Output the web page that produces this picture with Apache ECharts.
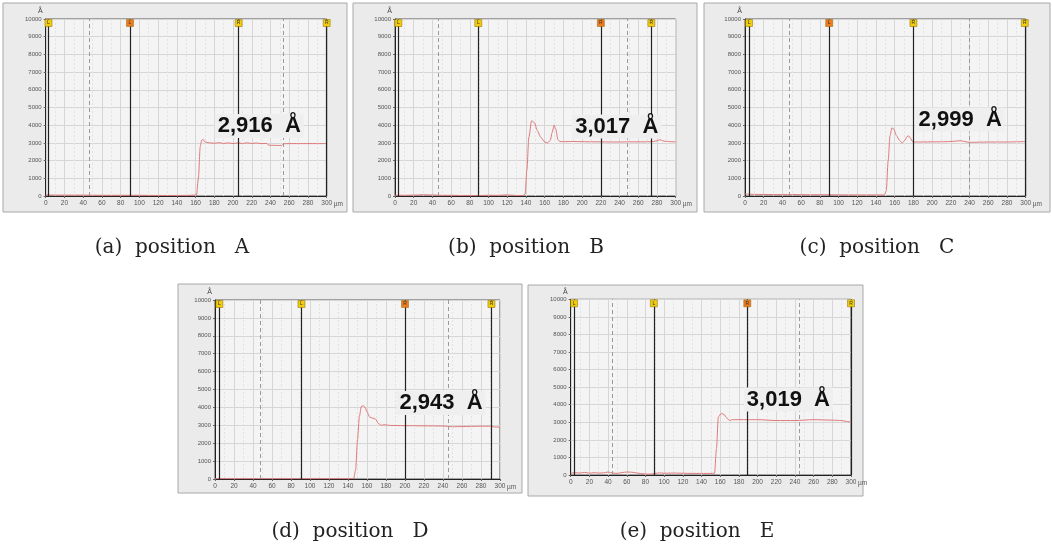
<!DOCTYPE html>
<html><head><meta charset="utf-8">
<script src="https://cdn.jsdelivr.net/npm/echarts@6/dist/echarts.min.js"></script>
<style>html,body{margin:0;padding:0;background:#fff}#c{width:1052px;height:547px}</style>
</head><body><div id="c"></div>
<script>
// ---- data (x in µm, thickness in Å) ----
const xA = [0,20,40,60,80,100,120,140,155,161,163,165,166.5,168,170,175,180,185,190,195,200,205,210,215,220,225,230,236,238,245,252,254,260,270,280,290,300];
const yA = [60,50,50,40,40,40,30,30,40,60,1000,2800,3150,3200,3050,3000,2980,3010,2970,3000,2960,3000,2970,3000,2970,2990,2960,2970,2870,2860,2850,2950,2960,2960,2960,2960,2960];

const xB = [0,10,20,30,40,50,60,70,80,90,100,110,120,130,137,139,141,143,146,149,152,156,160,163,166,168,170,172,174,176,180,190,200,210,220,230,240,250,260,270,276,280,283,286,290,300];
const yB = [40,40,50,70,60,40,40,30,30,30,40,40,60,30,30,100,1500,3300,4250,4150,3700,3300,3050,3000,3150,3600,4000,3750,3200,3080,3070,3080,3070,3060,3060,3050,3050,3060,3060,3060,3080,3120,3180,3120,3080,3060];

const xC = [0,10,30,50,70,90,110,130,149,151,153,155,157,159,162,165,168,171,173,175,177,179,181,190,200,210,220,230,240,250,260,270,280,290,300];
const yC = [120,90,80,80,70,70,60,60,60,300,2000,3400,3850,3780,3400,3150,3000,3150,3350,3400,3250,3080,3050,3050,3060,3060,3080,3120,3030,3040,3050,3050,3050,3060,3080];

const xD = [0,20,40,60,80,100,120,140,146,148,150,152,154,156,158,160,163,166,169,172,175,178,185,200,220,240,250,260,280,290,295,300];
const yD = [20,20,20,20,20,20,20,20,30,500,2200,3500,4050,4100,4000,3750,3450,3400,3350,3100,3000,3030,2990,2980,2970,2960,2920,2930,2950,2950,2900,2900];

const xE = [0,5,10,15,20,25,30,35,40,45,50,55,60,65,70,75,80,85,90,95,100,110,120,130,140,150,154,156,158,161,164,167,170,173,176,180,190,200,220,240,260,280,290,295,300];
const yE = [100,130,110,150,100,130,110,120,170,110,90,140,170,160,120,80,60,50,90,120,100,110,100,90,90,90,100,1500,3300,3500,3450,3250,3100,3150,3150,3150,3150,3150,3100,3100,3150,3120,3100,3050,3000];

// cursor positions (µm), index of the active (orange) cursor, dashed guide lines
const cursorsA = [3,90,206,300],   activeA = 1, dashedA = [47,254];
const cursorsB = [3.6,89,220,274], activeB = 2, dashedB = [46,248];
const cursorsC = [4.3,90,180,299], activeC = 1, dashedC = [47,240];
const cursorsD = [4.6,91,200,291], activeD = 2, dashedD = [48,246];
const cursorsE = [3.6,89,189,300], activeE = 2, dashedE = [45,245];

// step-height readings and where they are written (µm, Å)
const valueA = '2,916  Å', valueAtA = [228,3955];
const valueB = '3,017  Å', valueAtB = [237,3930];
const valueC = '2,999  Å', valueAtC = [230,4320];
const valueD = '2,943  Å', valueAtD = [238,4250];
const valueE = '3,019  Å', valueAtE = [233,4300];

const captions = ['(a)  position   A','(b)  position   B','(c)  position   C','(d)  position   D','(e)  position   E'];
const xTicks = {interval:20, min:0, max:300, unit:'µm'};
const yTicks = {interval:1000, min:0, max:10000, unit:'Å'};

// ---- layout ----
const panels = [
  {x:xA,y:yA,cur:cursorsA,act:activeA,dash:dashedA,txt:valueA,at:valueAtA,cap:captions[0],
   grid:{left:45.7,top:19,width:281,height:177}, box:[3,3,344,209], capPos:[172,248]},
  {x:xB,y:yB,cur:cursorsB,act:activeB,dash:dashedB,txt:valueB,at:valueAtB,cap:captions[1],
   grid:{left:395,top:19,width:280.7,height:177}, box:[353,3,344,209], capPos:[526,248]},
  {x:xC,y:yC,cur:cursorsC,act:activeC,dash:dashedC,txt:valueC,at:valueAtC,cap:captions[2],
   grid:{left:745,top:19,width:280.7,height:177}, box:[704,3,346,209], capPos:[877,248]},
  {x:xD,y:yD,cur:cursorsD,act:activeD,dash:dashedD,txt:valueD,at:valueAtD,cap:captions[3],
   grid:{left:215,top:300,width:285,height:179}, box:[178,284,344,209], capPos:[350,532]},
  {x:xE,y:yE,cur:cursorsE,act:activeE,dash:dashedE,txt:valueE,at:valueAtE,cap:captions[4],
   grid:{left:570.7,top:299.3,width:280.3,height:175.7}, box:[528,285,335,211], capPos:[697,532]}
];

const grids=[], xAxes=[], yAxes=[], series=[], graphics=[];
panels.forEach((p,i)=>{
  grids.push(Object.assign({show:true,backgroundColor:'#f4f4f4',borderColor:'#555',borderWidth:1,containLabel:false}, p.grid));
  xAxes.push({gridIndex:i,type:'value',min:xTicks.min,max:xTicks.max,interval:xTicks.interval,
    axisLine:{show:true,onZero:false,lineStyle:{color:'#222',width:1}},
    axisTick:{show:true,length:2,lineStyle:{color:'#666'}},
    axisLabel:{fontSize:6.5,color:'#555',margin:4,fontFamily:'Liberation Sans',
      showMinLabel:true,showMaxLabel:true,hideOverlap:false,formatter:v=>String(v)},
    splitLine:{show:true,lineStyle:{color:'#d6d6d6',width:1}},
    minorTick:{show:true,splitNumber:2,length:0},
    minorSplitLine:{show:true,lineStyle:{color:'#e2e2e2',width:1,type:[2,2]}}
  });
  yAxes.push({gridIndex:i,type:'value',min:yTicks.min,max:yTicks.max,interval:yTicks.interval,
    name:yTicks.unit,nameLocation:'end',nameGap:4,
    nameTextStyle:{fontSize:7,color:'#444',align:'right',padding:[0,3,0,0]},
    axisLine:{show:true,lineStyle:{color:'#222',width:1}},
    axisTick:{show:true,length:2,lineStyle:{color:'#666'}},
    axisLabel:{fontSize:6,color:'#555',margin:4,fontFamily:'Liberation Sans',
      showMinLabel:true,showMaxLabel:true,formatter:v=>String(v)},
    splitLine:{show:true,lineStyle:{color:'#d6d6d6',width:1}}
  });
  const lineData = p.x.map((xv,k)=>[xv,p.y[k]]);
  const ml = p.cur.map(xv=>({xAxis:xv,lineStyle:{color:'#222',width:1.2,type:'solid'}}))
    .concat(p.dash.map(xv=>({xAxis:xv,lineStyle:{color:'#9a9a9a',width:1,type:[4,3]}})));
  const mp = p.cur.map((xv,j)=>({coord:[xv,yTicks.max],symbol:'rect',symbolSize:[7,7],symbolOffset:[0,4],
      itemStyle:{color:j===p.act?'#f07a20':'#f0cc10',borderColor:'#8a6a00',borderWidth:0.5},
      label:{show:true,formatter:j<2?'L':'R',fontSize:5,color:'#333',position:'inside'}}));
  mp.push({coord:p.at,symbol:'rect',symbolSize:1,itemStyle:{color:'rgba(0,0,0,0)'},
    label:{show:true,position:'inside',formatter:p.txt,fontFamily:'Liberation Sans',fontWeight:'bold',
      fontSize:22,color:'#111',backgroundColor:'#efefef',padding:[1,3]}});
  series.push({type:'line',xAxisIndex:i,yAxisIndex:i,data:lineData,showSymbol:false,
    smooth:0.25,smoothMonotone:'x',
    lineStyle:{color:'#e07878',width:1},
    markLine:{symbol:['none','none'],silent:true,label:{show:false},data:ml,animation:false},
    markPoint:{silent:true,data:mp,animation:false}
  });
  graphics.push({type:'rect',z:-10,shape:{x:p.box[0],y:p.box[1],width:p.box[2],height:p.box[3]},
    style:{fill:'#ebebeb',stroke:'#a8a8a8',lineWidth:1}});
  // x-axis unit written after the last tick label
  graphics.push({type:'text',x:p.grid.left+p.grid.width+7,y:p.grid.top+p.grid.height+8,
    style:{text:xTicks.unit,fontFamily:'Liberation Sans',fontSize:6.5,fill:'#555',align:'left',verticalAlign:'middle'}});
  graphics.push({type:'text',x:p.capPos[0],y:p.capPos[1],
    style:{text:p.cap,fontFamily:'DejaVu Serif',fontSize:20,fill:'#222',align:'center',verticalAlign:'middle'}});
});

const chart = echarts.init(document.getElementById('c'),null,{renderer:'canvas'});
chart.setOption({animation:false,backgroundColor:'#ffffff',grid:grids,xAxis:xAxes,yAxis:yAxes,series:series,graphic:graphics});
</script></body></html>
